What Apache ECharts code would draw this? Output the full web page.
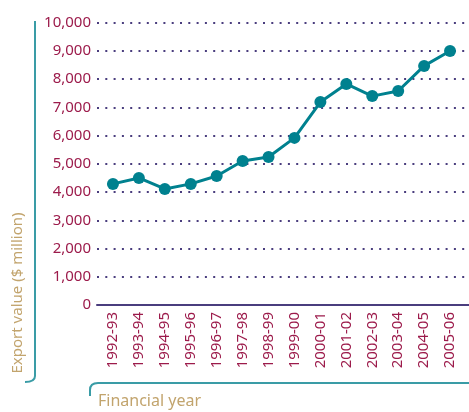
<!DOCTYPE html>
<html>
<head>
<meta charset="utf-8">
<script src="https://cdn.jsdelivr.net/npm/echarts@6/dist/echarts.min.js"></script>
<style>
  html, body { margin: 0; padding: 0; background: #fff; }
  #chart { width: 469px; height: 412px; }
</style>
</head>
<body>
<div id="chart"></div>
<script>
// financial years on the x axis
const years = ['1992-93', '1993-94', '1994-95', '1995-96', '1996-97', '1997-98', '1998-99',
  '1999-00', '2000-01', '2001-02', '2002-03', '2003-04', '2004-05', '2005-06'];
// export value, $ million
const exportValue = [4290, 4500, 4110, 4290, 4570, 5100, 5240, 5920, 7190, 7830, 7400, 7580, 8470, 9000];
const yMax = 10000;
const yStep = 1000;

const crimson = '#9c1b4b';
const teal = '#00818f';
const purple = '#4a3d7e';
const tan = '#c2a46d';
const bracket = '#3a9ca6';
const font = 'Noto Sans';
const bracketStyle = { fill: null, stroke: bracket, lineWidth: 2 };

let myChart = echarts.init(document.getElementById('chart'));
myChart.setOption({
  animation: false,
  grid: [
    // grid 0: gridlines + y labels, full width
    { left: 97, right: 0, top: 22.7, bottom: 107 },
    // grid 1: the line itself, categories centred
    { left: 100, right: 6, top: 22.7, bottom: 107 }
  ],
  xAxis: [
    {
      gridIndex: 0, type: 'value', min: 0, max: 1,
      axisLine: { show: true, lineStyle: { color: purple, width: 2 } },
      axisTick: { show: false }, axisLabel: { show: false }, splitLine: { show: false }
    },
    {
      gridIndex: 1, type: 'category', data: years, boundaryGap: true,
      axisLine: { show: false }, axisTick: { show: false },
      axisLabel: {
        rotate: 90, interval: 0, margin: 7,
        color: crimson, fontFamily: font, fontSize: 15
      }
    }
  ],
  yAxis: [
    {
      gridIndex: 0, type: 'value', min: 0, max: yMax, interval: yStep,
      axisLine: { show: false }, axisTick: { show: false },
      axisLabel: {
        margin: 6, color: crimson, fontFamily: font, fontSize: 15,
        formatter: v => v.toLocaleString('en-US')
      },
      splitLine: {
        show: true,
        lineStyle: { color: purple, width: 2, type: [2, 6.3] }
      }
    },
    {
      gridIndex: 1, type: 'value', min: 0, max: yMax, interval: yStep,
      show: false
    }
  ],
  series: [
    {
      type: 'line',
      xAxisIndex: 1,
      yAxisIndex: 1,
      data: exportValue,
      symbol: 'circle',
      symbolSize: 12,
      lineStyle: { color: teal, width: 3 },
      itemStyle: { color: teal }
    }
  ],
  graphic: [
    // left bracket
    { type: 'line', shape: { x1: 35, y1: 21, x2: 35, y2: 376 }, style: bracketStyle },
    { type: 'bezierCurve', shape: { x1: 35, y1: 376, cpx1: 35, cpy1: 382, x2: 25, y2: 382 }, style: bracketStyle },
    {
      type: 'text',
      x: 18, y: 293, rotation: Math.PI / 2,
      style: {
        text: 'Export value ($ million)', fill: tan,
        font: '15px "Noto Sans"', align: 'center', verticalAlign: 'middle'
      }
    },
    // bottom bracket
    { type: 'line', shape: { x1: 90, y1: 396, x2: 90, y2: 390 }, style: bracketStyle },
    { type: 'bezierCurve', shape: { x1: 90, y1: 390, cpx1: 90, cpy1: 383, x2: 98, y2: 383 }, style: bracketStyle },
    { type: 'line', shape: { x1: 98, y1: 383, x2: 469, y2: 383 }, style: bracketStyle },
    {
      type: 'text',
      x: 98, y: 401,
      style: {
        text: 'Financial year', fill: tan,
        font: '16px "Noto Sans"', align: 'left', verticalAlign: 'middle'
      }
    }
  ]
});
</script>
</body>
</html>
